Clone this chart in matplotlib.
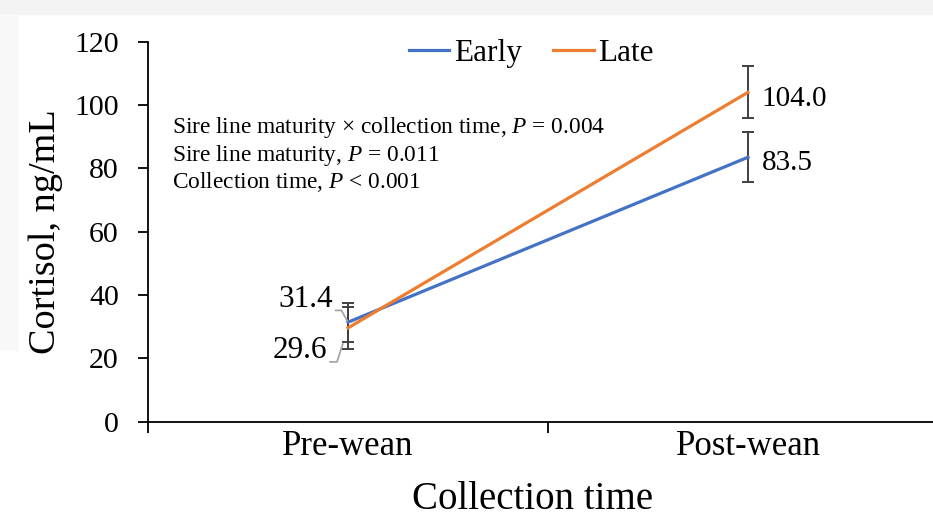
import matplotlib.pyplot as plt
from matplotlib.patches import Rectangle

plt.rcParams['font.family'] = ['Liberation Serif', 'DejaVu Serif']
plt.rcParams['mathtext.fontset'] = 'custom'
plt.rcParams['mathtext.it'] = 'Liberation Serif:italic'
plt.rcParams['mathtext.rm'] = 'Liberation Serif'

# data
times = ["Pre-wean", "Post-wean"]
early = [31.4, 83.5]
late = [29.6, 104.0]
early_se = [6.1, 7.9]
late_se = [6.7, 8.2]
stats_lines = [
    "Sire line maturity \u00d7 collection time, $\\mathit{P}$ = 0.004",
    "Sire line maturity, $\\mathit{P}$ = 0.011",
    "Collection time, $\\mathit{P}$ < 0.001",
]

blue = "#4472C4"
orange = "#ED7D31"
errc = "#404040"
leader = "#a6a6a6"

fig = plt.figure(figsize=(9.33, 5.18), dpi=100)
# light grey frame from the screenshot
fig.patches.append(Rectangle((0, 1 - 14 / 518), 1, 14 / 518, transform=fig.transFigure,
                             color="#f3f3f3", zorder=0))
fig.patches.append(Rectangle((0, 1 - 350 / 518), 17 / 933, 336 / 518, transform=fig.transFigure,
                             color="#f8f8f8", zorder=0))

ax = fig.add_axes([148 / 933, 0.186, 800 / 933, 0.7336])
xs = [0.5, 1.5]

ax.errorbar(xs, early, yerr=early_se, fmt="none", ecolor=errc, elinewidth=1.4,
            capsize=4, capthick=1.4, zorder=2)
ax.errorbar(xs, late, yerr=late_se, fmt="none", ecolor=errc, elinewidth=1.4,
            capsize=4, capthick=1.4, zorder=2)
ax.plot(xs, early, color=blue, lw=2.3, label="Early", zorder=3)
ax.plot(xs, late, color=orange, lw=2.3, label="Late", zorder=3)

ax.set_xlim(0, 2)
ax.set_ylim(0, 120)
ax.set_yticks(range(0, 121, 20))
ax.set_xticks([0, 1, 2])
ax.set_xticklabels([])
ax.set_xticks(xs, minor=True)
ax.set_xticklabels(times, minor=True)
ax.tick_params(axis="x", which="minor", length=0, labelsize=25, pad=6)
ax.tick_params(axis="x", which="major", length=8, width=1.3, direction="out")
ax.tick_params(axis="y", length=7, width=1.3, labelsize=21.5, pad=14)

for s in ["top", "right"]:
    ax.spines[s].set_visible(False)
for s in ["left", "bottom"]:
    ax.spines[s].set_linewidth(1.3)

ax.set_ylabel("Cortisol, ng/mL", fontsize=27.5, labelpad=8)
ax.set_xlabel("Collection time", fontsize=28, labelpad=14)
ax.xaxis.set_label_coords(0.481, -0.155)

# value labels
ax.annotate(f"{late[1]:.1f}", (xs[1], late[1]), xytext=(10, -5), textcoords="offset points",
            fontsize=21, va="center", ha="left")
ax.annotate(f"{early[1]:.1f}", (xs[1], early[1]), xytext=(10, -4), textcoords="offset points",
            fontsize=21, va="center", ha="left")
ax.annotate(f"{early[0]:.1f}", (xs[0], early[0]), xytext=(-11, 6), textcoords="offset points",
            fontsize=22.5, va="bottom", ha="right",
            arrowprops=dict(arrowstyle="-", color=leader, lw=1.3, relpos=(1.0, 0.12),
                            connectionstyle="angle,angleA=0,angleB=119,rad=0",
                            shrinkA=0, shrinkB=1))
ax.annotate(f"{late[0]:.1f}", (xs[0], late[0]), xytext=(-15, -27), textcoords="offset points",
            fontsize=22.5, va="bottom", ha="right",
            arrowprops=dict(arrowstyle="-", color=leader, lw=1.3, relpos=(1.0, 0.12),
                            connectionstyle="angle,angleA=0,angleB=-108,rad=0",
                            shrinkA=0, shrinkB=12))

ax.text(0.03, 0.807, "\n".join(stats_lines), transform=ax.transAxes, fontsize=16.8,
        va="top", ha="left", linespacing=1.15)

ax.legend(loc="upper center", bbox_to_anchor=(0.479, 1.08), ncol=2, frameon=False,
          fontsize=22.5, handlelength=1.3, handletextpad=0.15, columnspacing=1.0)

fig.savefig("out.png", dpi=100)
